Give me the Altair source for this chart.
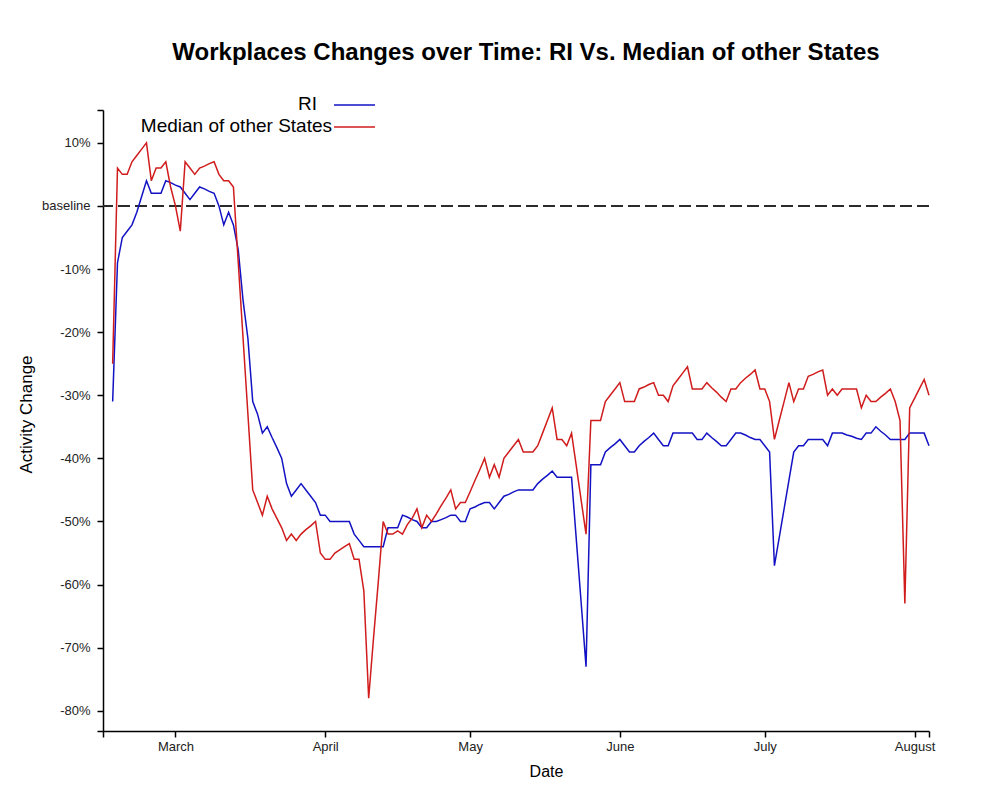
import altair as alt
import pandas as pd

# ---------------- data ----------------
start_date = "2020-02-17"

ri_values = [
    -31, -9, -5, -4, -3, -1, 1.5, 4, 2, 2,
    2, 4, 3.7, 3.3, 3, 2, 1, 2, 3, 2.7,
    2.3, 2, 0, -3, -1, -3, -7, -15, -21, -31,
    -33, -36, -35, -36.7, -38.3, -40, -44, -46, -45, -44,
    -45, -46, -47, -49, -49, -50, -50, -50, -50, -50,
    -52, -53, -54, -54, -54, -54, -54, -51, -51, -51,
    -49, -49.3, -49.7, -50, -51, -51, -50, -50, -49.7, -49.4,
    -49, -49, -50, -50, -48, -47.7, -47.3, -47, -47, -48,
    -47, -46, -45.7, -45.3, -45, -45, -45, -45, -44, -43.3,
    -42.7, -42, -43, -43, -43, -43, -53, -63, -73, -41,
    -41, -41, -39, -38.3, -37.7, -37, -38, -39, -39, -38,
    -37.3, -36.7, -36, -37, -38, -38, -36, -36, -36, -36,
    -36, -37, -37, -36, -36.7, -37.3, -38, -38, -37, -36,
    -36, -36.3, -36.7, -37, -37, -38, -39, -57, -52.5, -48,
    -43.5, -39, -38, -38, -37, -37, -37, -37, -38, -36,
    -36, -36, -36.3, -36.5, -36.8, -37, -36, -36, -35, -35.7,
    -36.3, -37, -37, -37, -37, -36, -36, -36, -36, -38,
]

median_values = [
    -25, 6, 5, 5, 7, 8, 9, 10, 4, 6,
    6, 7, 3, 0, -4, 7, 6, 5, 6, 6.3,
    6.7, 7, 5, 4, 4, 3, -9, -21, -33, -45,
    -47, -49, -46, -48, -49.5, -51, -53, -52, -53, -52,
    -51.3, -50.7, -50, -55, -56, -56, -55, -54.5, -54, -53.5,
    -56, -56, -61, -78, -68.5, -59.5, -50, -52, -52, -51.5,
    -52, -50.5, -49.5, -48, -51, -49, -50, -48.8, -47.5, -46.3,
    -45, -48, -47, -47, -45.3, -43.5, -41.8, -40, -43, -41,
    -43, -40, -39, -38, -37, -39, -39, -39, -38, -36,
    -34, -32, -37, -37, -38, -36, -41.3, -46.7, -52, -34,
    -34, -34, -31, -30, -29, -28, -31, -31, -31, -29,
    -28.7, -28.3, -28, -30, -30, -31, -28.5, -27.5, -26.5, -25.5,
    -29, -29, -29, -28, -28.8, -29.5, -30.3, -31, -29, -29,
    -28, -27.3, -26.7, -26, -29, -29, -31, -37, -34, -31,
    -28, -31, -29, -29, -27, -26.7, -26.3, -26, -30, -29,
    -30, -29, -29, -29, -29, -32, -30, -31, -31, -30.3,
    -29.7, -29, -31, -34, -63, -32, -30.5, -29, -27.5, -30,
]

series_names = ["RI", "Median of other States"]
series_colors = ["#1212c4", "#d01c1c"]

x_domain = [(2020, 2, 15), (2020, 8, 4)]
month_ticks = [(2020, 3, 1), (2020, 4, 1), (2020, 5, 1), (2020, 6, 1), (2020, 7, 1), (2020, 8, 1)]
month_labels = ["March", "April", "May", "June", "July", "August"]

y_domain = [-83.2, 15.2]
y_tick_values = [10, 0, -10, -20, -30, -40, -50, -60, -70, -80]
y_tick_labels = ["10%", "baseline", "-10%", "-20%", "-30%", "-40%", "-50%", "-60%", "-70%", "-80%"]

baseline_value = [0]

# ---------------- tables ----------------
dates = pd.date_range(start_date, periods=len(ri_values), freq="D").strftime("%Y-%m-%d")
df = pd.concat([
    pd.DataFrame({"date": dates, "value": ri_values, "series": series_names[0]}),
    pd.DataFrame({"date": dates, "value": median_values, "series": series_names[1]}),
], ignore_index=True)

baseline_df = pd.DataFrame({"y": baseline_value})


def dt(t):
    return alt.DateTime(year=t[0], month=t[1], date=t[2], utc=True)


x_axis_values = [dt(x_domain[0])] + [dt(t) for t in month_ticks] + [dt(x_domain[1])]
x_label_expr = "''"
for t, lab in reversed(list(zip(month_ticks, month_labels))):
    x_label_expr = (
        f"(utcmonth(datum.value) === {t[1] - 1} && utcdate(datum.value) === {t[2]}) "
        f"? '{lab}' : ({x_label_expr})"
    )

y_axis_values = [y_domain[1]] + y_tick_values + [y_domain[0]]
y_label_expr = "''"
for v, lab in reversed(list(zip(y_tick_values, y_tick_labels))):
    y_label_expr = f"datum.value === {v} ? '{lab}' : ({y_label_expr})"

FONT = "Liberation Sans"

axis_style = dict(
    grid=False,
    domain=True,
    domainColor="black",
    domainWidth=1.5,
    ticks=True,
    tickColor="black",
    tickWidth=1.5,
    tickSize=6,
    labelFont=FONT,
    labelFontSize=13,
    labelColor="#222222",
    titleFont=FONT,
    titleColor="black",
    titleFontWeight="normal",
    labelOverlap=False,
    labelFlush=False,
)

color_scale = alt.Scale(domain=series_names, range=series_colors)

x_enc = alt.X(
    "date:T",
    scale=alt.Scale(type="utc", domain=[dt(x_domain[0]), dt(x_domain[1])], nice=False),
    axis=alt.Axis(
        values=x_axis_values,
        labelExpr=x_label_expr,
        title="Date",
        titleX=443,
        titleY=40,
        titleBaseline="middle",
        titleAlign="center",
        titleFontSize=16,
        labelPadding=3,
        **axis_style,
    ),
)

y_enc = alt.Y(
    "value:Q",
    scale=alt.Scale(domain=y_domain, nice=False, zero=False),
    axis=alt.Axis(
        values=y_axis_values,
        labelExpr=y_label_expr,
        title="Activity Change",
        titleX=-77,
        titleY=304,
        titleAngle=270,
        titleBaseline="middle",
        titleAlign="center",
        titleFontSize=17,
        labelPadding=7,
        **axis_style,
    ),
)

baseline = alt.Chart(baseline_df).mark_rule(
    color="#2a2a2a", strokeWidth=2, strokeDash=[12, 5]
).encode(y=alt.Y("y:Q"))

lines = alt.Chart(df).mark_line(strokeWidth=1.5).encode(
    x=x_enc,
    y=y_enc,
    color=alt.Color("series:N", scale=color_scale, legend=None),
)

legend_layers = []
legend_text_right = [214, 229]
legend_y = [-6, 16]
for i, name in enumerate(series_names):
    ldf = pd.DataFrame({"series": [name]})
    legend_layers.append(
        alt.Chart(ldf).mark_text(
            align="right", baseline="middle", font=FONT, fontSize=19, color="black"
        ).encode(
            x=alt.value(legend_text_right[i]),
            y=alt.value(legend_y[i]),
            text="series:N",
        )
    )
    legend_layers.append(
        alt.Chart(ldf).mark_rule(strokeWidth=1.5).encode(
            x=alt.value(231),
            x2=alt.value(272),
            y=alt.value(legend_y[i] + 1),
            color=alt.Color("series:N", scale=color_scale, legend=None),
        )
    )

chart = alt.layer(baseline, lines, *legend_layers).properties(
    width=826,
    height=621,
    background="white",
    title=alt.Title(
        "Workplaces Changes over Time: RI Vs. Median of other States",
        font=FONT,
        fontSize=24,
        fontWeight="bold",
        color="black",
        anchor="middle",
        dx=10,
        offset=30,
    ),
    autosize=alt.AutoSizeParams(type="none"),
    padding={"left": 95, "top": 102, "right": 60, "bottom": 60},
).configure_view(
    stroke=None
)

chart.save("out.html", embed_options={"renderer": "svg", "actions": False})
